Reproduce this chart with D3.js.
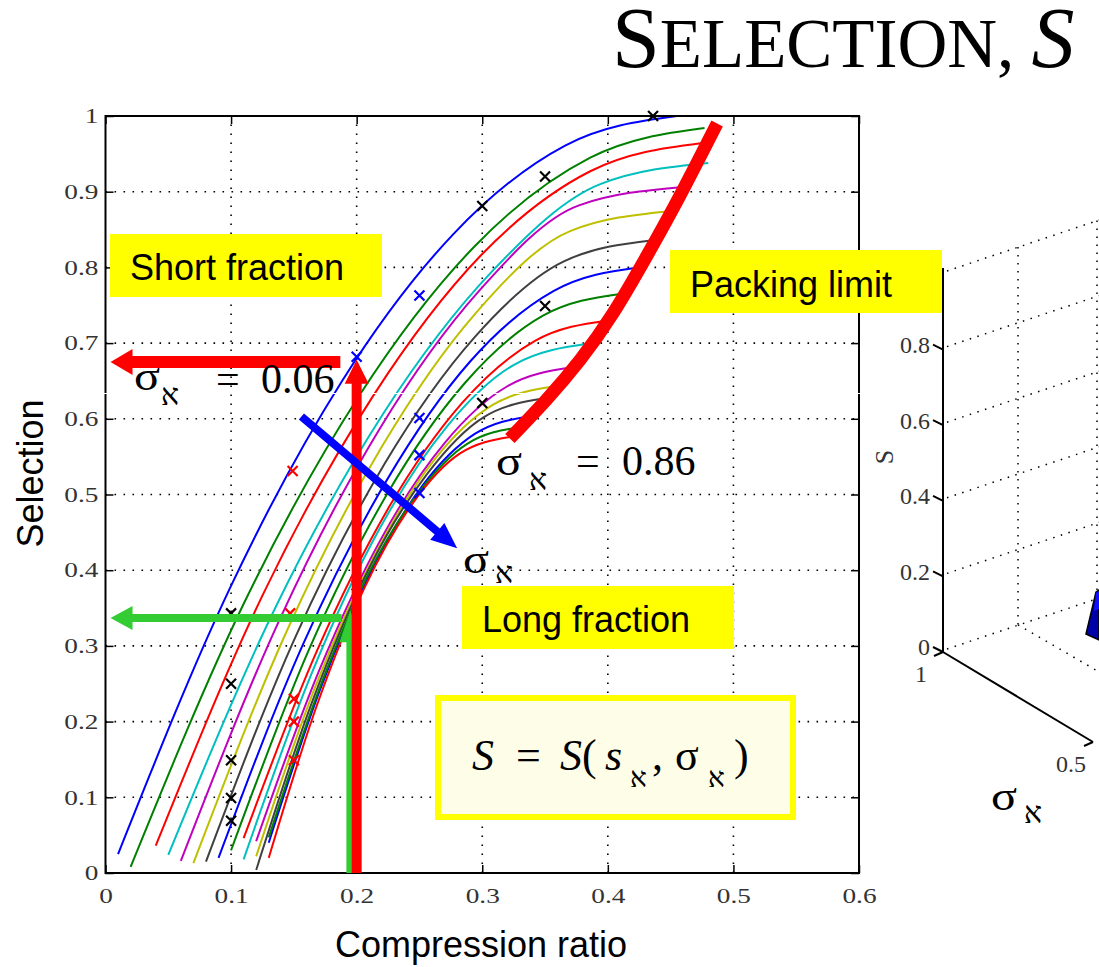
<!DOCTYPE html>
<html>
<head>
<meta charset="utf-8">
<script src="https://cdn.jsdelivr.net/npm/d3@7"></script>
<style>
  body { margin: 0; background: #fff; }
  svg { display: block; }
</style>
</head>
<body>
<div id="chart"></div>
<script>
'use strict'

////////////////////////////////////
/////////////// data ///////////////
////////////////////////////////////

// matlab default line order, one curve per entry
const curveColors = ['#0000ff', '#008000', '#ff0000', '#00bfbf', '#bf00bf', '#bfbf00', '#404040',
    '#0000ff', '#008000', '#ff0000', '#00bfbf', '#bf00bf', '#bfbf00', '#404040',
    '#0000ff', '#008000', '#ff0000']

// compression ratio samples along each curve
const curveXs = [
    [0.01, 0.099, 0.188, 0.277, 0.366, 0.455],
    [0.02, 0.111, 0.203, 0.294, 0.386, 0.477],
    [0.04, 0.126, 0.213, 0.299, 0.386, 0.474],
    [0.05, 0.136, 0.222, 0.308, 0.394, 0.48],
    [0.06, 0.139, 0.218, 0.298, 0.377, 0.458],
    [0.07, 0.145, 0.22, 0.295, 0.37, 0.447],
    [0.08, 0.151, 0.222, 0.294, 0.365, 0.436],
    [0.09, 0.157, 0.224, 0.29, 0.357, 0.424],
    [0.10, 0.162, 0.224, 0.286, 0.348, 0.41],
    [0.11, 0.168, 0.226, 0.284, 0.342, 0.40],
    [0.11, 0.164, 0.218, 0.272, 0.326, 0.384],
    [0.12, 0.17, 0.22, 0.27, 0.32, 0.372],
    [0.12, 0.167, 0.214, 0.261, 0.308, 0.358],
    [0.12, 0.165, 0.21, 0.256, 0.301, 0.35],
    [0.13, 0.171, 0.212, 0.253, 0.294, 0.337],
    [0.13, 0.17, 0.209, 0.249, 0.288, 0.33],
    [0.13, 0.168, 0.206, 0.244, 0.282, 0.322]
]

// selection values at those samples
const curveYs = [
    [0.025, 0.376, 0.649, 0.844, 0.961, 1.0],
    [0.008, 0.359, 0.633, 0.828, 0.945, 0.984],
    [0.036, 0.370, 0.630, 0.816, 0.927, 0.964],
    [0.024, 0.353, 0.609, 0.795, 0.910, 0.938],
    [0.016, 0.336, 0.586, 0.770, 0.882, 0.906],
    [0.013, 0.322, 0.563, 0.740, 0.848, 0.874],
    [0.015, 0.311, 0.540, 0.708, 0.808, 0.836],
    [0.02, 0.301, 0.519, 0.675, 0.769, 0.80],
    [0.03, 0.295, 0.500, 0.647, 0.736, 0.765],
    [0.046, 0.292, 0.484, 0.621, 0.703, 0.73],
    [0.018, 0.263, 0.454, 0.590, 0.672, 0.699],
    [0.042, 0.267, 0.443, 0.568, 0.643, 0.668],
    [0.022, 0.246, 0.419, 0.544, 0.618, 0.643],
    [0.004, 0.228, 0.403, 0.527, 0.602, 0.627],
    [0.04, 0.243, 0.400, 0.513, 0.580, 0.603],
    [0.047, 0.242, 0.394, 0.502, 0.567, 0.589],
    [0.02, 0.220, 0.376, 0.487, 0.554, 0.576]
]

// x markers
const blackMarks = [[0.1, 0.343], [0.1, 0.25], [0.1, 0.149], [0.1, 0.099], [0.1, 0.069],
    [0.3, 0.881], [0.35, 0.92], [0.35, 0.749], [0.3, 0.621], [0.436, 1.0]]
const redMarks = [[0.149, 0.531], [0.147, 0.343], [0.15, 0.23], [0.15, 0.2], [0.15, 0.149]]
const blueMarks = [[0.2, 0.682], [0.25, 0.763], [0.25, 0.601], [0.25, 0.552], [0.25, 0.502], [0.2, 0.38]]

// packing limit (thick red)
const packingLimit = [[0.322, 0.574], [0.351, 0.625], [0.378, 0.678], [0.404, 0.739],
    [0.431, 0.815], [0.4575, 0.895], [0.487, 0.99]]

const xTicks = [0, 0.1, 0.2, 0.3, 0.4, 0.5, 0.6]
const yTicks = [0, 0.1, 0.2, 0.3, 0.4, 0.5, 0.6, 0.7, 0.8, 0.9, 1]

// right hand 3d panel (cut off)
const sTicks = [0, 0.2, 0.4, 0.6, 0.8, 1]
const sigmaTicks = [1, 0.5]

////////////////////////////////////
//////////// svg setup /////////////
////////////////////////////////////

const svgWidth = 1099
const svgHeight = 967
const serif = '"Liberation Serif", "Times New Roman", "DejaVu Serif", serif'
const sans = '"Liberation Sans", Arial, Helvetica, sans-serif'

const svg = d3.select('#chart')
    .append('svg')
    .attr('width', svgWidth)
    .attr('height', svgHeight)

const x = d3.scaleLinear().domain([0, 0.6]).range([105.5, 859])
const y = d3.scaleLinear().domain([0, 1]).range([873, 116])

const plotW = x(0.6) - x(0)
const plotH = y(0) - y(1)

// title
svg.append('text')
    .attr('x', 612)
    .attr('y', 67)
    .attr('font-family', serif)
    .attr('fill', '#000')
    .call(t => {
        t.append('tspan').attr('font-size', 86).text('S')
        t.append('tspan').attr('font-size', 69).text('ELECTION, ')
        t.append('tspan').attr('font-size', 86).attr('font-style', 'italic').text('S')
    })

////////////////////////////////////
///////////// main plot ////////////
////////////////////////////////////

const plot = svg.append('g')

// grid
const grid = plot.append('g')
    .attr('stroke', '#000')
    .attr('stroke-width', 1.6)
    .attr('stroke-dasharray', '1.6,7.4')

grid.selectAll('.vgrid')
    .data(xTicks.slice(1, -1))
    .join('line')
    .attr('x1', d => x(d)).attr('x2', d => x(d))
    .attr('y1', y(0)).attr('y2', y(1))

grid.selectAll('.hgrid')
    .data(yTicks.slice(1, -1))
    .join('line')
    .attr('y1', d => y(d)).attr('y2', d => y(d))
    .attr('x1', x(0)).attr('x2', x(0.6))

// curves
const line = d3.line()
    .x(d => x(d[0]))
    .y(d => y(d[1]))
    .curve(d3.curveMonotoneX)

plot.append('g')
    .selectAll('path')
    .data(curveXs.map((xs, i) => xs.map((v, j) => [v, curveYs[i][j]])))
    .join('path')
    .attr('d', line)
    .attr('fill', 'none')
    .attr('stroke', (d, i) => curveColors[i])
    .attr('stroke-width', 2)

// markers
function marks(data, color) {
    const s = 5
    const g = plot.append('g').attr('stroke', color).attr('stroke-width', 2.2)
    g.selectAll('path')
        .data(data)
        .join('path')
        .attr('d', d => {
            const cx = x(d[0]), cy = y(d[1])
            return `M${cx - s},${cy - s}L${cx + s},${cy + s}M${cx - s},${cy + s}L${cx + s},${cy - s}`
        })
}
marks(blackMarks, '#000')
marks(redMarks, '#ff0000')
marks(blueMarks, '#0000ff')

// scan seam across the picture
svg.append('line')
    .attr('x1', 0).attr('x2', 862)
    .attr('y1', 393.5).attr('y2', 393.5)
    .attr('stroke', '#fff')
    .attr('stroke-width', 1)

// axes, matlab style ticks on all four sides
const fmt = d3.format('~g')
const axisStyle = g => {
    g.selectAll('.domain').remove()
    g.selectAll('line').attr('stroke', '#000').attr('stroke-width', 1.5)
    g.selectAll('text')
        .attr('font-family', serif)
        .attr('font-size', 21)
        .attr('fill', '#333')
        .attr('transform', 'scale(1.3,1)')
}

plot.append('g')
    .attr('transform', `translate(0,${y(0)})`)
    .call(d3.axisBottom(x).tickValues(xTicks).tickFormat(fmt).tickSizeInner(-8).tickSizeOuter(0).tickPadding(15))
    .call(axisStyle)

plot.append('g')
    .attr('transform', `translate(${x(0)},0)`)
    .call(d3.axisLeft(y).tickValues(yTicks).tickFormat(fmt).tickSizeInner(-8).tickSizeOuter(0).tickPadding(5.5))
    .call(axisStyle)

plot.append('g')
    .attr('transform', `translate(0,${y(1)})`)
    .call(d3.axisTop(x).tickValues(xTicks).tickFormat('').tickSizeInner(-8).tickSizeOuter(0))
    .call(axisStyle)

plot.append('g')
    .attr('transform', `translate(${x(0.6)},0)`)
    .call(d3.axisRight(y).tickValues(yTicks).tickFormat('').tickSizeInner(-8).tickSizeOuter(0))
    .call(axisStyle)

plot.append('rect')
    .attr('x', x(0)).attr('y', y(1))
    .attr('width', plotW).attr('height', plotH)
    .attr('fill', 'none')
    .attr('stroke', '#000')
    .attr('stroke-width', 2)

// axis titles
svg.append('text')
    .attr('transform', `translate(43,${(y(0) + y(1)) / 2 - 21}) rotate(-90)`)
    .attr('text-anchor', 'middle')
    .attr('font-family', sans)
    .attr('font-size', 36)
    .text('Selection')

svg.append('text')
    .attr('x', 481)
    .attr('y', 957)
    .attr('text-anchor', 'middle')
    .attr('font-family', sans)
    .attr('font-size', 36)
    .text('Compression ratio')

////////////////////////////////////
////////// 3d panel (right) ////////
////////////////////////////////////

const p3 = svg.append('g')
const s = d3.scaleLinear().domain([0, 1]).range([650, 272])
const ax0 = 943
const slope = -0.335
// sigma axis runs down-right from the origin corner
const sig = d3.scaleLinear().domain([1, 0.5]).range([0, 1])
const sigPt = v => [ax0 + 150 * sig(v), s(0) + 2 + 90 * sig(v)]

const dots = p3.append('g')
    .attr('stroke', '#000')
    .attr('stroke-width', 1.5)
    .attr('stroke-dasharray', '1.5,6.5')
    .attr('fill', 'none')

dots.selectAll('line')
    .data(sTicks)
    .join('line')
    .attr('x1', ax0 + 4).attr('y1', d => s(d) - 1)
    .attr('x2', svgWidth).attr('y2', d => s(d) - 1 + slope * (svgWidth - ax0 - 4))

dots.append('line')
    .attr('x1', 1018).attr('x2', 1018)
    .attr('y1', s(1) + slope * (1018 - ax0)).attr('y2', s(0) + slope * (1018 - ax0))
dots.append('line')
    .attr('x1', 1097).attr('x2', 1097)
    .attr('y1', s(1) + slope * (1097 - ax0)).attr('y2', s(0) + slope * (1097 - ax0))
dots.append('line')
    .attr('x1', 1018).attr('y1', s(0) + slope * (1018 - ax0))
    .attr('x2', svgWidth).attr('y2', s(0) + slope * (1018 - ax0) + 0.58 * (svgWidth - 1018))

// vertical S axis
p3.append('line')
    .attr('x1', ax0).attr('x2', ax0)
    .attr('y1', s(0) + 2).attr('y2', s(1) - 4)
    .attr('stroke', '#000').attr('stroke-width', 2)

p3.selectAll('.stick')
    .data(sTicks)
    .join('line')
    .attr('x1', ax0).attr('y1', d => s(d) + 2)
    .attr('x2', ax0 - 10).attr('y2', d => s(d) - 3)
    .attr('stroke', '#000').attr('stroke-width', 2)

p3.selectAll('.slabel')
    .data(sTicks)
    .join('text')
    .attr('x', ax0 - 13)
    .attr('y', d => s(d) - 3)
    .attr('dy', '0.35em')
    .attr('text-anchor', 'end')
    .attr('font-family', serif)
    .attr('font-size', 24)
    .attr('fill', '#333')
    .text(d => fmt(d))

p3.append('text')
    .attr('transform', `translate(893,457) rotate(-90)`)
    .attr('text-anchor', 'middle')
    .attr('font-family', serif)
    .attr('font-size', 26)
    .attr('fill', '#333')
    .text('S')

// sigma axis
p3.append('line')
    .attr('x1', sigPt(1)[0]).attr('y1', sigPt(1)[1])
    .attr('x2', sigPt(0.5)[0]).attr('y2', sigPt(0.5)[1])
    .attr('stroke', '#000').attr('stroke-width', 2)

p3.selectAll('.sigtick')
    .data(sigmaTicks)
    .join('line')
    .attr('x1', d => sigPt(d)[0]).attr('y1', d => sigPt(d)[1])
    .attr('x2', d => sigPt(d)[0] - 9).attr('y2', d => sigPt(d)[1] + 4)
    .attr('stroke', '#000').attr('stroke-width', 2)

p3.selectAll('.siglabel')
    .data(sigmaTicks)
    .join('text')
    .attr('x', d => sigPt(d)[0] - 22)
    .attr('y', d => sigPt(d)[1] + 30)
    .attr('text-anchor', 'middle')
    .attr('font-family', serif)
    .attr('font-size', 24)
    .attr('fill', '#333')
    .text(d => fmt(d))

// corner of the blue surface peeking in
p3.append('polygon')
    .attr('points', '1096,592 1099,590 1099,640 1086,634')
    .attr('fill', '#0000a8').attr('stroke', '#000').attr('stroke-width', 1.5)
p3.append('polygon')
    .attr('points', '1096,593 1099,591 1099,609 1094,611')
    .attr('fill', '#1010ff')

////////////////////////////////////
//////////// annotations ///////////
////////////////////////////////////

const ann = svg.append('g')

ann.append('path')
    .datum(packingLimit)
    .attr('d', d3.line().x(d => x(d[0])).y(d => y(d[1])).curve(d3.curveNatural))
    .attr('fill', 'none')
    .attr('stroke', '#ff0000')
    .attr('stroke-width', 13)
    .attr('stroke-linecap', 'butt')

function arrow(x1, y1, x2, y2, w, hl, hw, color) {
    const dx = x2 - x1, dy = y2 - y1, L = Math.hypot(dx, dy)
    const ux = dx / L, uy = dy / L, px = -uy, py = ux
    const bx = x2 - ux * hl, by = y2 - uy * hl
    const pts = [
        [x1 + px * w / 2, y1 + py * w / 2],
        [bx + px * w / 2, by + py * w / 2],
        [bx + px * hw / 2, by + py * hw / 2],
        [x2, y2],
        [bx - px * hw / 2, by - py * hw / 2],
        [bx - px * w / 2, by - py * w / 2],
        [x1 - px * w / 2, y1 - py * w / 2]
    ]
    ann.append('polygon')
        .attr('points', pts.map(p => p.join(',')).join(' '))
        .attr('fill', color)
}

const green = '#33cc33'
arrow(x(0.188), y(0.337), x(0.004), y(0.337), 8, 22, 24, green)
arrow(x(0.195), y(0), x(0.195), y(0.347), 8, 32, 22, green)
arrow(x(0.187), y(0.675), x(0.004), y(0.675), 12, 22, 26, '#ff0000')
arrow(x(0.2), y(0), x(0.2), y(0.678), 10, 24, 24, '#ff0000')
arrow(x(0.156), y(0.603), x(0.28), y(0.429), 8, 26, 22, '#0000ff')

// yellow labels
function yellowBox(x0, y0, w, h, label, tx, ty) {
    ann.append('rect')
        .attr('x', x0).attr('y', y0)
        .attr('width', w).attr('height', h)
        .attr('fill', '#ffff00')
    ann.append('text')
        .attr('x', tx).attr('y', ty)
        .attr('font-family', sans)
        .attr('font-size', 36)
        .text(label)
}
yellowBox(110, 234, 272, 63, 'Short fraction', 130, 280)
yellowBox(670, 250, 272, 63, 'Packing limit', 690, 297)
yellowBox(462, 586, 272, 63, 'Long fraction', 482, 632)

// sigma with alef subscript
function sigma(g, sx, sy, ax, ay, size, alefSize) {
    g.append('text')
        .attr('transform', `translate(${sx},${sy}) scale(1.15,1)`)
        .attr('font-family', serif).attr('font-size', size)
        .text('σ')
    g.append('text')
        .attr('x', ax).attr('y', ay)
        .attr('font-family', serif).attr('font-size', alefSize)
        .text('א')
}
function valueText(tx, vx, ty, value) {
    ann.append('text')
        .attr('x', tx).attr('y', ty)
        .attr('font-family', serif).attr('font-size', 42)
        .text('=')
    ann.append('text')
        .attr('x', vx).attr('y', ty)
        .attr('font-family', serif).attr('font-size', 42)
        .text(value)
}

sigma(ann, 134, 390, 161, 405, 42, 30)
valueText(216, 261, 393, '0.06')
sigma(ann, 496, 475, 529, 490, 42, 30)
valueText(576, 622, 475, '0.86')
sigma(ann, 463, 573, 495, 583, 42, 30)
sigma(p3, 991, 810, 1024, 823, 42, 30)

// formula box
ann.append('rect')
    .attr('x', 438).attr('y', 698)
    .attr('width', 355).attr('height', 119)
    .attr('fill', '#fefee8')
    .attr('stroke', '#ffff00')
    .attr('stroke-width', 6)

const eq = ann.append('text')
    .attr('font-family', serif)
    .attr('font-size', 44)
    .attr('y', 770)
eq.append('tspan').attr('x', 472).attr('font-style', 'italic').text('S')
eq.append('tspan').attr('x', 516).text('=')
eq.append('tspan').attr('x', 560).attr('font-style', 'italic').text('S')
eq.append('tspan').text('(')
eq.append('tspan').attr('x', 605).attr('font-style', 'italic').text('s')
eq.append('tspan').attr('x', 630).attr('y', 787).attr('font-size', 28).text('א')
eq.append('tspan').attr('x', 652).attr('y', 770).text(',')
eq.append('tspan').attr('x', 675).text('σ')
eq.append('tspan').attr('x', 708).attr('y', 787).attr('font-size', 28).text('א')
eq.append('tspan').attr('x', 734).attr('y', 770).text(')')
</script>
</body>
</html>
